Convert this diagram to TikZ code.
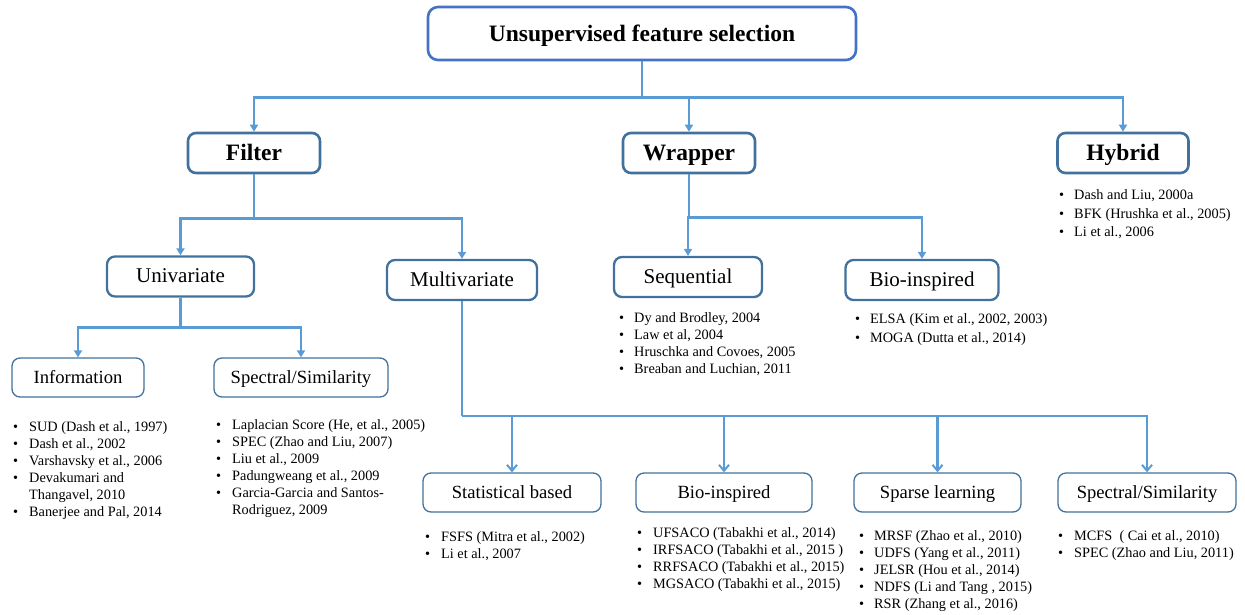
\documentclass[tikz,border=0pt]{standalone}
\usepackage{fontspec}
\setmainfont{Liberation Serif}
\usetikzlibrary{arrows.meta}
\definecolor{conn}{HTML}{5B9BD5}
\definecolor{bord}{HTML}{41719C}
\definecolor{topb}{HTML}{4472C4}
\tikzset{
  topbox/.style={draw=topb, line width=2.6pt, rounded corners=10pt, fill=white, text height=18pt, text depth=2.4pt, font=\fontsize{23.5}{26}\selectfont\bfseries},
  lvlone/.style={draw=bord, line width=2.6pt, rounded corners=8pt, fill=white, minimum height=40pt, text height=18pt, text depth=2.4pt, font=\fontsize{23.5}{26}\selectfont\bfseries},
  lvltwo/.style={draw=bord, line width=2.3pt, rounded corners=8pt, fill=white, minimum height=40pt, text height=15pt, text depth=2.4pt, font=\fontsize{21}{23}\selectfont},
  lvlthree/.style={draw=bord, line width=1.3pt, rounded corners=8pt, fill=white, minimum height=39pt, text height=13pt, text depth=1.8pt, font=\fontsize{18.6}{21}\selectfont},
  conline/.style={draw=conn, line width=2.4pt},
  conarrow/.style={draw=conn, line width=2.4pt, -{Triangle[length=7pt,width=8pt]}},
  conbarb/.style={draw=conn, line width=2.4pt, -{Straight Barb[length=6pt,width=10pt,line width=2pt]}},
  reflist/.style={anchor=north west, inner sep=0pt, align=left, font=\fontsize{14.3}{17}\selectfont},
  reflistw/.style={anchor=north west, inner sep=0pt, align=left, font=\fontsize{14.3}{18.2}\selectfont},
}
\newcommand{\bl}{\textbullet}
\begin{document}
\begin{tikzpicture}[x=1pt,y=-1pt]
\useasboundingbox (0,0) rectangle (1245,614);

% boxes
\node[topbox, minimum width=428pt, minimum height=53pt] (top) at (642,33.5) {Unsupervised feature selection};
\node[lvlone, minimum width=132pt] (filter) at (254,153) {Filter};
\node[lvlone, minimum width=132pt] (wrapper) at (689,153) {Wrapper};
\node[lvlone, minimum width=131pt] (hybrid) at (1123,153) {Hybrid};

\node[lvltwo, minimum width=147pt] (univ) at (180.5,276.5) {Univariate};
\node[lvltwo, minimum width=150pt] (multi) at (462,280) {Multivariate};
\node[lvltwo, minimum width=148pt] (seq) at (688,277) {Sequential};
\node[lvltwo, minimum width=153pt] (biow) at (922,280) {Bio-inspired};

\node[lvlthree, minimum width=132pt] (info) at (78,377.5) {Information};
\node[lvlthree, minimum width=174pt] (specu) at (301,377.5) {Spectral/Similarity};
\node[lvlthree, minimum width=178pt] (stat) at (512,492.5) {Statistical based};
\node[lvlthree, minimum width=176pt] (biom) at (724,492.5) {Bio-inspired};
\node[lvlthree, minimum width=167pt] (sparse) at (937.5,492.5) {Sparse learning};
\node[lvlthree, minimum width=178pt] (specm) at (1147,492.5) {Spectral/Similarity};

% connectors
\draw[conline] (top.south) -- ++(0,36) coordinate (j0);
\draw[conarrow] (j0) -| (filter.north);
\draw[conarrow] (j0) -| (wrapper.north);
\draw[conarrow] (j0) -| (hybrid.north);

\draw[conline] (filter.south) -- ++(0,44) coordinate (j1);
\draw[conarrow] (j1) -| (univ.north);
\draw[conarrow] (j1) -| (multi.north);

\draw[conline] (wrapper.south) -- ++(0,43) coordinate (j2);
\draw[conarrow] (j2) -| (seq.north);
\draw[conarrow] (j2) -| (biow.north);

\draw[conline] (univ.south) -- ++(0,30) coordinate (j3);
\draw[conarrow] (j3) -| (info.north);
\draw[conarrow] (j3) -| (specu.north);

\draw[conline] (multi.south) -- ++(0,115) coordinate (j4);
\draw[conbarb] (j4) -| (stat.north);
\draw[conbarb] (j4) -| (biom.north);
\draw[conbarb] (j4) -| (sparse.north);
\draw[conbarb] (j4) -| (specm.north);

% reference lists
\node[reflistw] (lhyb) at (1059,187) {\begin{tabular}{@{}l@{\hspace{10pt}}l@{}}
\bl & Dash and Liu, 2000a\\
\bl & BFK (Hrushka et al., 2005)\\
\bl & Li et al., 2006
\end{tabular}};

\node[reflist] (lseq) at (619,310) {\begin{tabular}{@{}l@{\hspace{10pt}}l@{}}
\bl & Dy and Brodley, 2004\\
\bl & Law et al, 2004\\
\bl & Hruschka and Covoes, 2005\\
\bl & Breaban and Luchian, 2011
\end{tabular}};

\node[reflistw] (lbiow) at (855,311) {\begin{tabular}{@{}l@{\hspace{10pt}}l@{}}
\bl & ELSA (Kim et al., 2002, 2003)\\
\bl & MOGA (Dutta et al., 2014)
\end{tabular}};

\node[reflist] (linfo) at (13,419) {\begin{tabular}{@{}l@{\hspace{11pt}}l@{}}
\bl & SUD (Dash et al., 1997)\\
\bl & Dash et al., 2002\\
\bl & Varshavsky et al., 2006\\
\bl & Devakumari and\\
    & Thangavel, 2010\\
\bl & Banerjee and Pal, 2014
\end{tabular}};

\node[reflist] (lspecu) at (216,417) {\begin{tabular}{@{}l@{\hspace{11pt}}l@{}}
\bl & Laplacian Score (He, et al., 2005)\\
\bl & SPEC (Zhao and Liu, 2007)\\
\bl & Liu et al., 2009\\
\bl & Padungweang et al., 2009\\
\bl & Garcia-Garcia and Santos-\\
    & Rodriguez, 2009
\end{tabular}};

\node[reflist] (lstat) at (425,529) {\begin{tabular}{@{}l@{\hspace{11pt}}l@{}}
\bl & FSFS (Mitra et al., 2002)\\
\bl & Li et al., 2007
\end{tabular}};

\node[reflist] (lbiom) at (637,525) {\begin{tabular}{@{}l@{\hspace{11pt}}l@{}}
\bl & UFSACO (Tabakhi et al., 2014)\\
\bl & IRFSACO (Tabakhi et al., 2015 )\\
\bl & RRFSACO (Tabakhi et al., 2015)\\
\bl & MGSACO (Tabakhi et al., 2015)
\end{tabular}};

\node[reflist] (lsparse) at (859,528) {\begin{tabular}{@{}l@{\hspace{10pt}}l@{}}
\bl & MRSF (Zhao et al., 2010)\\
\bl & UDFS (Yang et al., 2011)\\
\bl & JELSR (Hou et al., 2014)\\
\bl & NDFS (Li and Tang , 2015)\\
\bl & RSR (Zhang et al., 2016)
\end{tabular}};

\node[reflist] (lspecm) at (1058,528) {\begin{tabular}{@{}l@{\hspace{11pt}}l@{}}
\bl & MCFS \ ( Cai et al., 2010)\\
\bl & SPEC (Zhao and Liu, 2011)
\end{tabular}};
\end{tikzpicture}
\end{document}
